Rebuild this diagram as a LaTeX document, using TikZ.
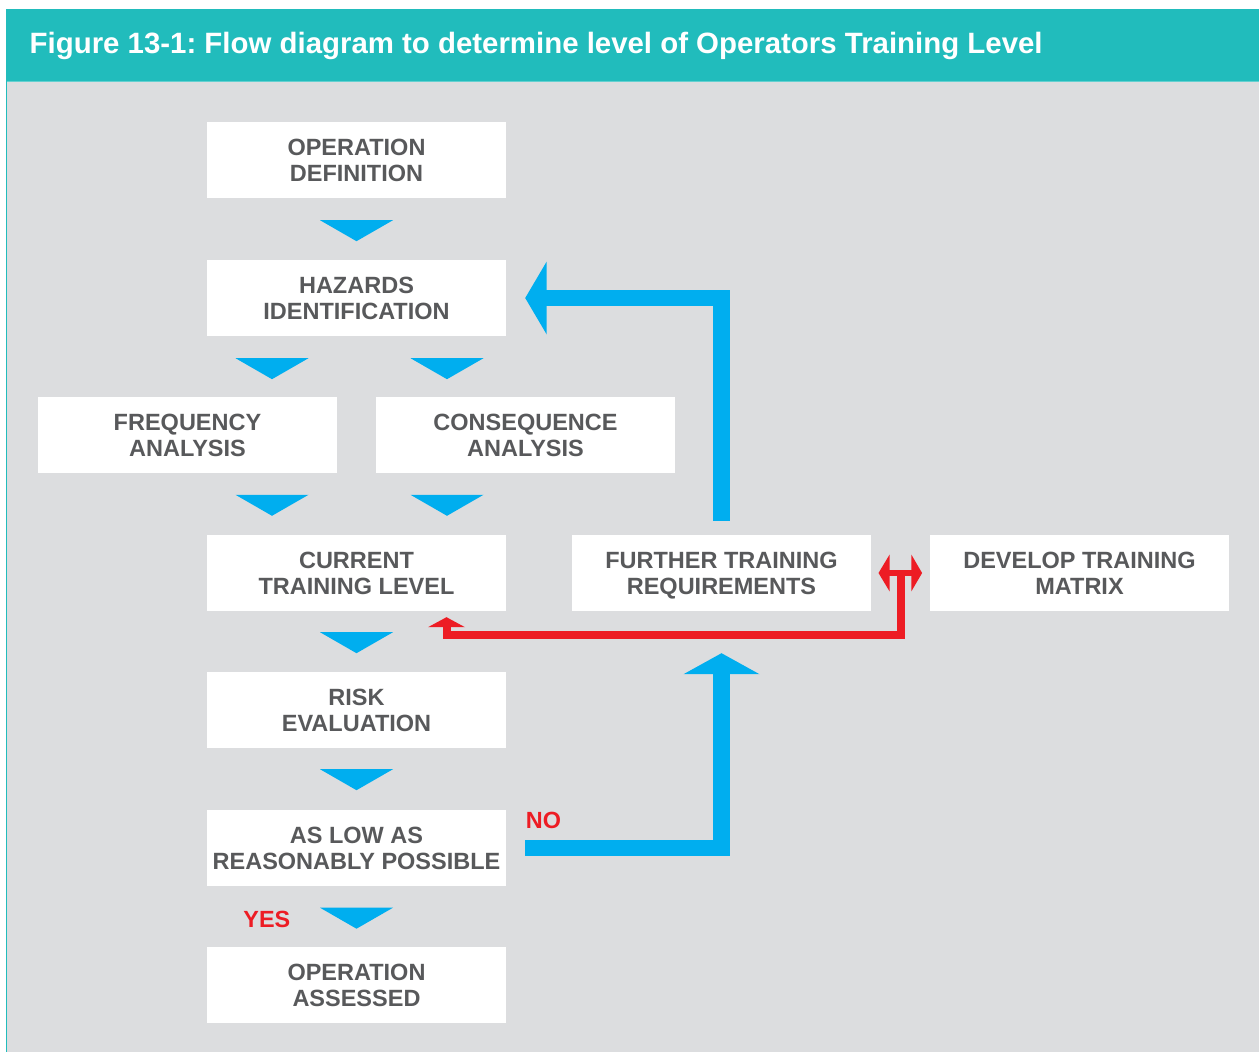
\documentclass[tikz,border=0pt]{standalone}
\usepackage{fontspec}
\setmainfont{Liberation Sans}
\usetikzlibrary{calc}
\definecolor{hdr}{HTML}{21BCBC}
\definecolor{bodygray}{HTML}{DCDDDF}
\definecolor{boxtext}{HTML}{58595B}
\definecolor{arrblue}{HTML}{00AEEF}
\definecolor{arrred}{HTML}{ED1C24}
\frenchspacing
\begin{document}
\begin{tikzpicture}[x=1pt,y=-1pt,
  box/.style={fill=white, minimum width=299pt, minimum height=76pt, inner sep=0pt,
    align=center, text=boxtext, font=\bfseries\fontsize{23.5}{26}\selectfont},
  chev/.style={fill=arrblue},
  bluebar/.style={draw=arrblue, line width=16.5pt, line join=miter},
  bluehead/.style={fill=arrblue},
  redbar/.style={draw=arrred, line width=8pt, line join=miter},
  redthin/.style={draw=arrred, line width=6.5pt},
  redhead/.style={fill=arrred},
  lbl/.style={text=arrred, font=\bfseries\fontsize{23.4}{26}\selectfont, inner sep=0pt}]
\useasboundingbox (0,0) rectangle (1259,1052);
% background
\fill[white] (0,0) rectangle (1259,1052);
\fill[hdr] (6,9) rectangle (1259,81);
\fill[bodygray] (6,82) rectangle (1259,1052);
\fill[hdr!70!white] (6,81) rectangle (1259,82);
\fill[hdr] (6,81) rectangle (7.4,1052);
\node[anchor=base west, inner sep=0pt, text=white, font=\bfseries\fontsize{29.4}{32}\selectfont] (title) at (29.5,53.5)
  {Figure 13-1: Flow diagram to determine level of Operators Training Level};
% boxes
\node[box] (opdef) at (356.5,160) {OPERATION\\DEFINITION};
\node[box] (hazards) at (356.5,298) {HAZARDS\\IDENTIFICATION};
\node[box] (freq) at (187.5,435) {FREQUENCY\\ANALYSIS};
\node[box] (cons) at (525.5,435) {CONSEQUENCE\\ANALYSIS};
\node[box] (current) at (356.5,573) {CURRENT\\TRAINING LEVEL};
\node[box] (further) at (721.5,573) {FURTHER TRAINING\\RE\smash{Q}UIREMENTS};
\node[box] (develop) at (1079.5,573) {DEVELOP TRAINING\\MATRIX};
\node[box] (risk) at (356.5,710) {RISK\\EVALUATION};
\node[box] (alarp) at (356.5,848) {AS LOW AS\\REASONABLY POSSIBLE};
\node[box] (assessed) at (356.5,985) {OPERATION\\ASSESSED};
% chevrons
\fill[chev] ($(opdef.south)+(-36.5,22)$) -- ++(73,0) -- ++(-36.5,21) -- cycle;
\fill[chev] ($(hazards.south)+(-121,22)$) -- ++(73,0) -- ++(-36.5,21) -- cycle;
\fill[chev] ($(hazards.south)+(54,22)$) -- ++(73,0) -- ++(-36.5,21) -- cycle;
\fill[chev] ($(current.north)+(-121,-40)$) -- ++(73,0) -- ++(-36.5,21) -- cycle;
\fill[chev] ($(current.north)+(54,-40)$) -- ++(73,0) -- ++(-36.5,21) -- cycle;
\fill[chev] ($(current.south)+(-36.5,21)$) -- ++(73,0) -- ++(-36.5,21) -- cycle;
\fill[chev] ($(risk.south)+(-36.5,21)$) -- ++(73,0) -- ++(-36.5,21) -- cycle;
\fill[chev] ($(alarp.south)+(-36.5,21.5)$) -- ++(73,0) -- ++(-36.5,21) -- cycle;
% blue loop back to hazards
\draw[bluebar] ($(further.north)+(0,-14)$) |- ($(hazards.east)+(40,0)$);
\fill[bluehead] ($(hazards.east)+(19,0)$) -- ($(hazards.east)+(40.5,-36.5)$) -- ($(hazards.east)+(40.5,36.5)$) -- cycle;
% blue NO path up to further
\draw[bluebar] ($(alarp.east)+(19,0)$) -| ($(further.south)+(0,62.5)$);
\fill[bluehead] ($(further.south)+(0,42)$) -- ($(further.south)+(-38,63)$) -- ($(further.south)+(38,63)$) -- cycle;
% red connector
\coordinate (mid) at ($(further.east)!0.5!(develop.west)$);
\draw[redbar] ($(current.south)+(90,15.5)$) |- ($(mid)+(0,62)$) -- (mid);
\fill[redhead] ($(current.south)+(90,6)$) -- +(-18.5,10) -- +(18.5,10) -- cycle;
\draw[redthin] ($(further.east)+(17.5,0)$) -- ($(develop.west)+(-17.5,0)$);
\fill[redhead] ($(further.east)+(7.3,0)$) -- ($(further.east)+(18.3,-18.3)$) -- ($(further.east)+(18.3,18.3)$) -- cycle;
\fill[redhead] ($(develop.west)+(-7.7,0)$) -- ($(develop.west)+(-18.4,-18.3)$) -- ($(develop.west)+(-18.4,18.3)$) -- cycle;
% labels
\node[lbl, anchor=base west] (no) at ($(alarp.north east)+(19.5,18.5)$) {NO};
\node[lbl, anchor=base east] (yes) at ($(assessed.north)+(-66,-19.5)$) {YES};
\end{tikzpicture}
\end{document}
